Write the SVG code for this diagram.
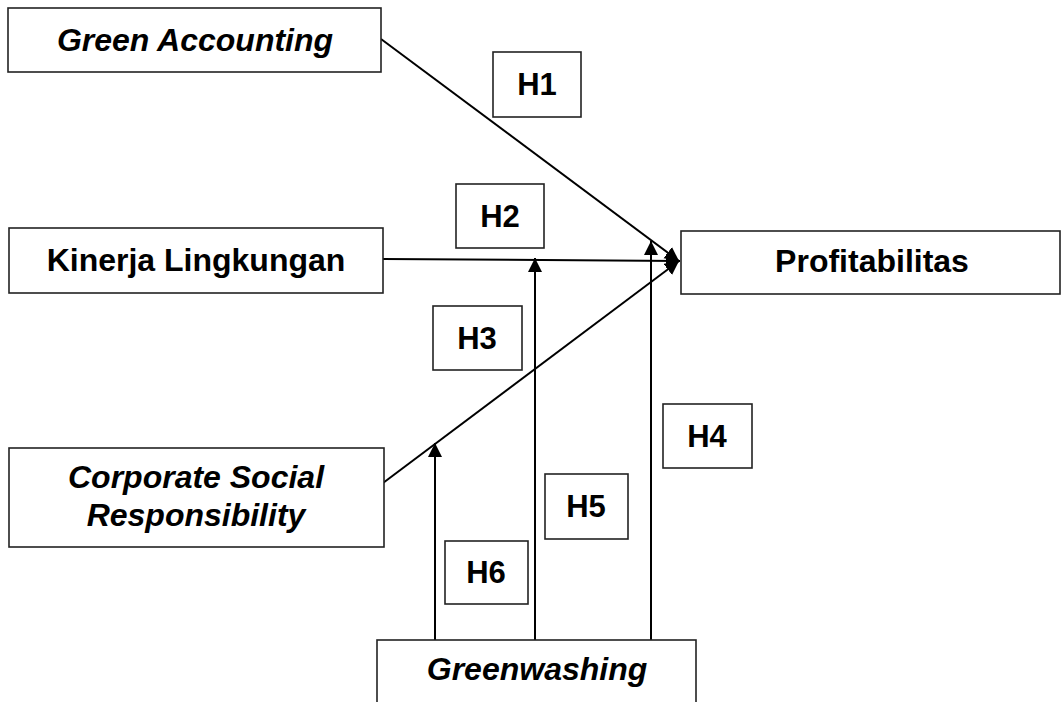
<svg xmlns="http://www.w3.org/2000/svg" width="1061" height="702" viewBox="0 0 1061 702">
<style>
.box{fill:#fff;stroke:#222;stroke-width:1.6}
.t{font-family:"Liberation Sans",Arial,sans-serif;font-weight:bold;font-size:32px;fill:#000;text-anchor:middle}
.i{font-style:italic}
.h{font-size:31px}
.c{fill:none;stroke:#000;stroke-width:2}
</style>
<defs>
<marker id="ah" markerUnits="userSpaceOnUse" markerWidth="16" markerHeight="16" refX="14" refY="7" orient="auto">
<path d="M0,0 L14,7 L0,14 z" fill="#000"/>
</marker>
</defs>
<rect width="1061" height="702" fill="#fff"/>
<g id="connectors">
<line class="c" x1="381" y1="39" x2="679" y2="261" marker-end="url(#ah)"/>
<line class="c" x1="383" y1="259" x2="680" y2="261" marker-end="url(#ah)"/>
<line class="c" x1="383" y1="483" x2="679" y2="261" marker-end="url(#ah)"/>
<line class="c" x1="435" y1="640" x2="435" y2="443" marker-end="url(#ah)"/>
<line class="c" x1="535" y1="640" x2="535" y2="258" marker-end="url(#ah)"/>
<line class="c" x1="651" y1="640" x2="651" y2="241" marker-end="url(#ah)"/>
</g>
<g id="green-accounting">
<rect class="box" x="8" y="8" width="373" height="64"/>
<text class="t i" x="195" y="51">Green Accounting</text>
</g>
<g id="kinerja-lingkungan">
<rect class="box" x="9" y="228" width="374" height="65"/>
<text class="t" x="196" y="271">Kinerja Lingkungan</text>
</g>
<g id="csr">
<rect class="box" x="9" y="448" width="375" height="99"/>
<text class="t i" x="196" y="488">Corporate Social</text>
<text class="t i" x="196" y="526">Responsibility</text>
</g>
<g id="profitabilitas">
<rect class="box" x="681" y="231" width="379" height="63"/>
<text class="t" x="872" y="272">Profitabilitas</text>
</g>
<g id="greenwashing">
<rect class="box" x="377" y="640" width="319" height="80"/>
<text class="t i" x="537" y="680">Greenwashing</text>
</g>
<g id="h1">
<rect class="box" x="493" y="52" width="88" height="65"/>
<text class="t h" x="537" y="95">H1</text>
</g>
<g id="h2">
<rect class="box" x="456" y="184" width="88" height="64"/>
<text class="t h" x="500" y="227">H2</text>
</g>
<g id="h3">
<rect class="box" x="433" y="306" width="89" height="64"/>
<text class="t h" x="477" y="349">H3</text>
</g>
<g id="h4">
<rect class="box" x="663" y="404" width="89" height="64"/>
<text class="t h" x="707" y="447">H4</text>
</g>
<g id="h5">
<rect class="box" x="545" y="474" width="83" height="65"/>
<text class="t h" x="586" y="517">H5</text>
</g>
<g id="h6">
<rect class="box" x="445" y="541" width="83" height="63"/>
<text class="t h" x="486" y="583">H6</text>
</g>
</svg>
